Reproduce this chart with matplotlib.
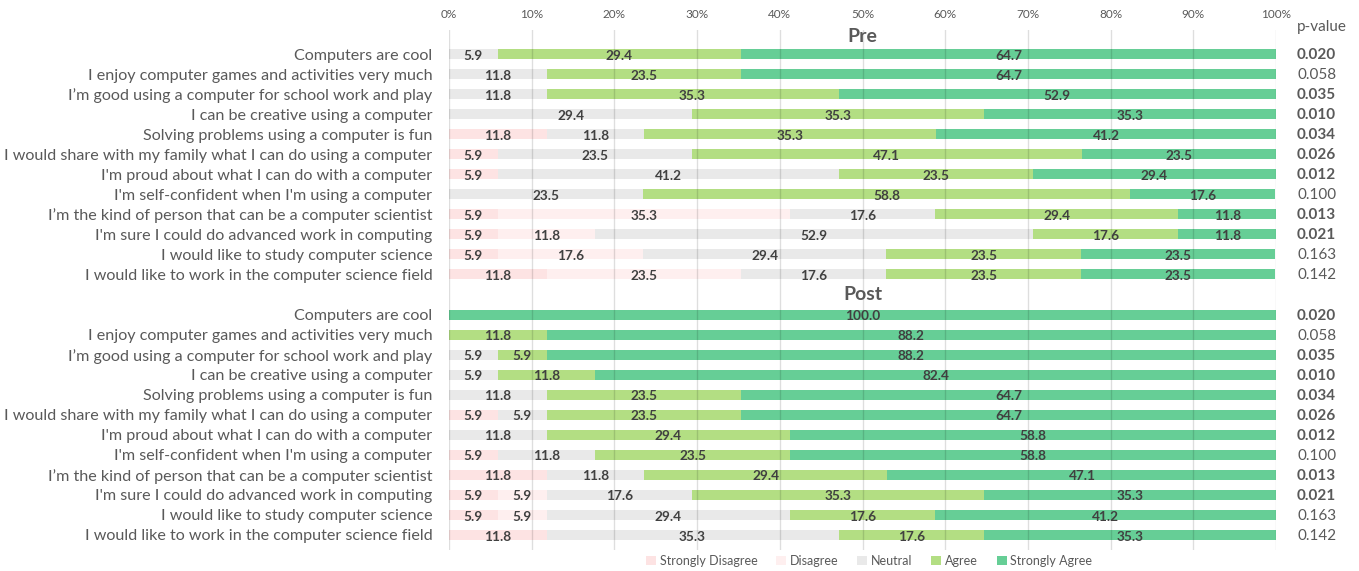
import matplotlib
matplotlib.use("Agg")
import matplotlib.pyplot as plt
from matplotlib.patches import Patch
from matplotlib.transforms import blended_transform_factory
import numpy as np

plt.rcParams['font.family'] = ['Lato', 'DejaVu Sans']

items = [
    "Computers are cool",
    "I enjoy computer games and activities very much",
    "I\u2019m good using a computer for school work and play",
    "I can be creative using a computer",
    "Solving problems using a computer is fun",
    "I would share with my family what I can do using a computer",
    "I'm proud about what I can do with a computer",
    "I'm self-confident when I'm using a computer",
    "I\u2019m the kind of person that can be a computer scientist",
    "I'm sure I could do advanced work in computing",
    "I would like to study computer science",
    "I would like to work in the computer science field",
]
categories = ["Strongly Disagree", "Disagree", "Neutral", "Agree", "Strongly Agree"]
colors = ["#FDE3E3", "#FEEFEF", "#E9E9E9", "#B3DE83", "#66CE96"]

pre_sd = [0, 0, 0, 0, 11.8, 5.9, 5.9, 0, 5.9, 5.9, 5.9, 11.8]
pre_d = [0, 0, 0, 0, 0, 0, 0, 0, 35.3, 11.8, 17.6, 23.5]
pre_n = [5.9, 11.8, 11.8, 29.4, 11.8, 23.5, 41.2, 23.5, 17.6, 52.9, 29.4, 17.6]
pre_a = [29.4, 23.5, 35.3, 35.3, 35.3, 47.1, 23.5, 58.8, 29.4, 17.6, 23.5, 23.5]
pre_sa = [64.7, 64.7, 52.9, 35.3, 41.2, 23.5, 29.4, 17.6, 11.8, 11.8, 23.5, 23.5]

post_sd = [0, 0, 0, 0, 0, 5.9, 0, 5.9, 11.8, 5.9, 5.9, 11.8]
post_d = [0, 0, 0, 0, 0, 0, 0, 0, 0, 5.9, 5.9, 0]
post_n = [0, 0, 5.9, 5.9, 11.8, 5.9, 11.8, 11.8, 11.8, 17.6, 29.4, 35.3]
post_a = [0, 11.8, 5.9, 11.8, 23.5, 23.5, 29.4, 23.5, 29.4, 35.3, 17.6, 17.6]
post_sa = [100.0, 88.2, 88.2, 82.4, 64.7, 64.7, 58.8, 58.8, 47.1, 35.3, 41.2, 35.3]

p_values = ["0.020", "0.058", "0.035", "0.010", "0.034", "0.026",
            "0.012", "0.100", "0.013", "0.021", "0.163", "0.142"]
significant = [True, False, True, True, True, True, True, False, True, True, False, False]

x_ticks = [0, 10, 20, 30, 40, 50, 60, 70, 80, 90, 100]

fig = plt.figure(figsize=(13.59, 5.71), dpi=100)
ax = fig.add_axes([449 / 1359, 1 - 550 / 571, 827 / 1359, 520 / 571])

text_col = "#595959"
val_col = "#404040"

pre = np.array([pre_sd, pre_d, pre_n, pre_a, pre_sa]).T
post = np.array([post_sd, post_d, post_n, post_a, post_sa]).T

n = len(items)
pre_pos = np.arange(1, n + 1)
post_pos = np.arange(n + 2, 2 * n + 2)

for data, pos in [(pre, pre_pos), (post, post_pos)]:
    left = np.zeros(n)
    for j in range(5):
        vals = data[:, j]
        ax.barh(pos, vals, left=left, height=0.5, color=colors[j], zorder=1)
        for i in range(n):
            if vals[i] > 0:
                ax.text(left[i] + vals[i] / 2, pos[i] + 0.08, f"{vals[i]:.1f}",
                        ha="center", va="center", fontsize=9.8, fontweight="bold",
                        color=val_col, zorder=3)
        left = left + vals

ax.set_xlim(0, 100)
ax.set_ylim(25.75, -0.2)

yt = list(pre_pos) + list(post_pos)
ax.set_yticks(yt)
ax.set_yticklabels(items + items, fontsize=11.6, color=text_col)
ax.tick_params(axis="y", length=0, pad=12)

ax.xaxis.tick_top()
ax.set_xticks(x_ticks)
ax.set_xticklabels([f"{t}%" for t in x_ticks], fontsize=8.5, color=text_col)
ax.tick_params(axis="x", length=0, pad=7)
ax.set_axisbelow(False)
ax.grid(axis="x", color="black", alpha=0.13, linewidth=1, zorder=2)
for s in ax.spines.values():
    s.set_visible(False)

ax.text(50, 0.1, "Pre", ha="center", va="center", fontsize=14, fontweight="bold",
        color=text_col)
ax.text(50, 13.0, "Post", ha="center", va="center", fontsize=14, fontweight="bold",
        color=text_col)

tr = blended_transform_factory(ax.transAxes, ax.transData)
px = (1297 - 449) / 827
ax.text(px, -0.35, "p-value", transform=tr, ha="left", va="center", fontsize=11,
        color=text_col, clip_on=False)
for pos_arr in (pre_pos, post_pos):
    for i in range(n):
        ax.text(px, pos_arr[i] + 0.05, p_values[i], transform=tr, ha="left", va="center",
                fontsize=11, color=text_col,
                fontweight="bold" if significant[i] else "normal", clip_on=False)

handles = [Patch(facecolor=c, edgecolor="none") for c in colors]
fig.legend(handles, categories, loc="center", bbox_to_anchor=(869 / 1359, 1 - 561 / 571),
           ncol=5, frameon=False, fontsize=9, handlelength=0.8, handleheight=0.8,
           handletextpad=0.3, columnspacing=1.5, labelcolor=text_col)

fig.savefig("out.png", dpi=100)
